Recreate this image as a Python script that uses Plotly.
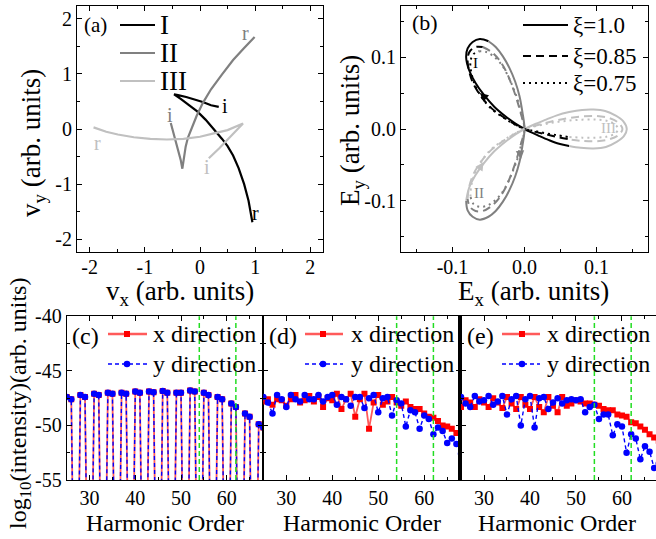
import plotly.graph_objects as go

W, H = 656, 539
FONT = "Liberation Serif, Times New Roman, Times, serif"

# ---------------- panel (a): velocity trajectories ----------------
a_I_x = [0.34, 0.20, 0.05, -0.10, -0.25, -0.40, -0.47, -0.35, -0.20, -0.05, 0.10, 0.25, 0.40, 0.50, 0.60, 0.70, 0.80, 0.88, 0.95]
a_I_y = [0.40, 0.43, 0.49, 0.54, 0.58, 0.615, 0.63, 0.545, 0.44, 0.32, 0.17, 0.0, -0.18, -0.31, -0.48, -0.71, -1.0, -1.3, -1.69]
a_II_x = [-0.53, -0.49, -0.44, -0.39, -0.35, -0.32, -0.29, -0.26, -0.22, -0.15, -0.06, 0.05, 0.20, 0.40, 0.60, 0.80, 0.99]
a_II_y = [0.11, -0.04, -0.19, -0.38, -0.56, -0.72, -0.50, -0.32, -0.16, 0.03, 0.24, 0.47, 0.72, 0.99, 1.25, 1.47, 1.67]
a_III_x = [-1.93, -1.70, -1.49, -1.20, -0.90, -0.60, -0.30, 0.0, 0.25, 0.50, 0.78, 0.65, 0.50, 0.35, 0.16]
a_III_y = [0.03, -0.05, -0.10, -0.15, -0.18, -0.19, -0.18, -0.14, -0.08, -0.02, 0.10, -0.04, -0.19, -0.35, -0.53]
a_names = ["I", "II", "III"]

# ---------------- panel (b): electric field, three xi values ----------------
# xi = 1.0 (solid)
b10_I_x = [0.062, 0.048, 0.034, 0.020, 0.008, 0.0, -0.012, -0.027, -0.042, -0.056, -0.068, -0.077, -0.081, -0.079, -0.072, -0.062, -0.050]
b10_I_y = [-0.0235, -0.0205, -0.0155, -0.0095, -0.004, 0.0, 0.007, 0.018, 0.031, 0.047, 0.064, 0.082, 0.099, 0.112, 0.121, 0.125, 0.122]
b10_II_x = [-0.050, -0.040, -0.030, -0.021, -0.013, -0.007, -0.003, 0.0, -0.003, -0.007, -0.013, -0.021, -0.030, -0.040, -0.050, -0.062, -0.072, -0.079, -0.081]
b10_II_y = [0.122, 0.114, 0.101, 0.085, 0.066, 0.046, 0.024, 0.0, -0.024, -0.046, -0.066, -0.085, -0.101, -0.114, -0.122, -0.126, -0.122, -0.113, -0.100]
b10_III_x = [-0.081, -0.077, -0.068, -0.056, -0.042, -0.027, -0.012, 0.0, 0.015, 0.030, 0.045, 0.062, 0.080, 0.096, 0.112, 0.126, 0.137, 0.142, 0.138, 0.128, 0.113, 0.096, 0.078, 0.062]
b10_III_y = [-0.100, -0.082, -0.064, -0.047, -0.031, -0.018, -0.007, 0.0, 0.007, 0.013, 0.019, 0.0235, 0.0265, 0.027, 0.025, 0.019, 0.011, 0.0, -0.010, -0.018, -0.025, -0.027, -0.026, -0.0235]
# xi = 0.85 (dashed)
b085_I_x = [0.060, 0.045, 0.030, 0.015, 0.0, -0.014, -0.030, -0.046, -0.060, -0.071, -0.077, -0.079, -0.076, -0.068, -0.058]
b085_I_y = [-0.014, -0.011, -0.0075, -0.004, 0.0, 0.007, 0.017, 0.029, 0.045, 0.063, 0.081, 0.097, 0.108, 0.114, 0.114]
b085_II_x = [-0.058, -0.047, -0.036, -0.026, -0.018, -0.011, -0.005, 0.0, -0.005, -0.011, -0.018, -0.026, -0.036, -0.047, -0.058, -0.068, -0.076, -0.079]
b085_II_y = [0.114, 0.108, 0.097, 0.081, 0.062, 0.042, 0.021, 0.0, -0.021, -0.042, -0.062, -0.081, -0.097, -0.108, -0.114, -0.114, -0.108, -0.097]
b085_III_x = [-0.079, -0.077, -0.071, -0.060, -0.046, -0.030, -0.014, 0.0, 0.020, 0.040, 0.060, 0.080, 0.100, 0.118, 0.130, 0.136, 0.131, 0.119, 0.100, 0.080, 0.060]
b085_III_y = [-0.097, -0.081, -0.063, -0.045, -0.029, -0.017, -0.007, 0.0, 0.006, 0.011, 0.015, 0.0175, 0.018, 0.015, 0.009, 0.0, -0.008, -0.014, -0.017, -0.0165, -0.014]
# xi = 0.75 (dotted)
b075_I_x = [0.060, 0.045, 0.030, 0.015, 0.0, -0.015, -0.031, -0.047, -0.060, -0.069, -0.074, -0.075, -0.071, -0.063]
b075_I_y = [-0.011, -0.0085, -0.006, -0.003, 0.0, 0.007, 0.017, 0.029, 0.045, 0.062, 0.079, 0.094, 0.104, 0.108]
b075_II_x = [-0.063, -0.053, -0.043, -0.033, -0.024, -0.016, -0.009, -0.004, 0.0, -0.004, -0.009, -0.016, -0.024, -0.033, -0.043, -0.053, -0.063, -0.071, -0.075]
b075_II_y = [0.108, 0.107, 0.101, 0.091, 0.076, 0.058, 0.039, 0.019, 0.0, -0.019, -0.039, -0.058, -0.076, -0.091, -0.101, -0.107, -0.108, -0.104, -0.094]
b075_III_x = [-0.075, -0.074, -0.069, -0.060, -0.047, -0.031, -0.015, 0.0, 0.020, 0.040, 0.060, 0.080, 0.100, 0.116, 0.126, 0.130, 0.126, 0.115, 0.100, 0.080, 0.060]
b075_III_y = [-0.094, -0.079, -0.062, -0.045, -0.029, -0.017, -0.007, 0.0, 0.005, 0.009, 0.0115, 0.013, 0.013, 0.011, 0.006, 0.0, -0.006, -0.0105, -0.012, -0.012, -0.011]
b_labels = ["\u03be=1.0", "\u03be=0.85", "\u03be=0.75"]

# ---------------- panels (c)-(e): harmonic spectra ----------------
orders = [25, 26, 27, 28, 29, 30, 31, 32, 33, 34, 35, 36, 37, 38, 39, 40, 41, 42, 43, 44, 45, 46,
          47, 48, 49, 50, 51, 52, 53, 54, 55, 56, 57, 58, 59, 60, 61, 62, 63, 64, 65, 66, 67, 68]
c_x = [-47.4, -47.6, -80, -47.2, -47.4, -80, -47.1, -47.2, -80, -47.0, -47.1, -80, -47.0, -47.1, -80,
       -46.9, -47.0, -80, -46.9, -46.95, -80, -46.85, -47.0, -80, -47.0, -47.0, -80, -46.8, -46.9, -80,
       -47.0, -47.2, -80, -47.4, -47.6, -80, -48.0, -48.3, -80, -48.9, -49.2, -80, -49.9, -50.2]
c_y = [-47.4, -47.6, -80, -47.2, -47.4, -80, -47.1, -47.2, -80, -47.0, -47.1, -80, -47.0, -47.1, -80,
       -46.9, -47.0, -80, -46.9, -46.95, -80, -46.85, -47.0, -80, -47.0, -47.0, -80, -46.8, -46.9, -80,
       -47.0, -47.2, -80, -47.4, -47.6, -80, -48.0, -48.3, -80, -48.9, -49.2, -80, -49.9, -50.2]
d_x = [-47.8, -47.6, -48.1, -47.6, -47.7, -48.2, -47.6, -47.2, -47.9, -47.7, -47.3, -47.8, -47.4, -48.3,
       -47.5, -47.7, -47.1, -48.5, -47.6, -47.1, -49.2, -47.6, -47.1, -50.3, -47.9, -47.2, -48.1, -47.8,
       -47.4, -47.9, -48.2, -47.8, -48.3, -48.5, -48.5, -48.9, -49.2, -49.3, -49.6, -50.0, -50.1, -50.3,
       -50.7, -51.0]
d_y = [-47.4, -47.9, -48.9, -47.2, -47.6, -48.3, -47.2, -47.6, -47.8, -47.2, -47.6, -47.6, -47.2, -47.8,
       -47.4, -47.2, -48.1, -47.4, -47.6, -48.2, -47.4, -47.4, -48.4, -47.5, -47.2, -48.8, -47.5, -47.4,
       -49.1, -47.7, -48.0, -50.1, -48.6, -48.8, -50.3, -49.1, -49.4, -50.8, -50.2, -50.5, -51.6, -51.2,
       -51.7, -52.6]
e_x = [-48.3, -47.7, -47.9, -48.3, -47.6, -47.9, -48.3, -47.5, -47.9, -48.4, -47.4, -48.0, -48.5, -47.4,
       -48.1, -48.5, -47.4, -48.3, -48.8, -47.4, -48.2, -48.8, -47.4, -48.2, -48.0, -47.7, -47.8, -48.0,
       -48.0, -48.1, -48.2, -48.5, -48.6, -48.6, -49.0, -49.1, -49.2, -49.7, -49.8, -50.1, -50.4, -50.8,
       -51.1, -51.4]
e_y = [-47.4, -48.0, -48.3, -47.3, -47.8, -47.7, -47.3, -48.1, -47.8, -47.3, -49.0, -47.6, -47.3, -50.0,
       -47.6, -47.3, -50.2, -47.5, -47.4, -48.5, -47.9, -47.5, -48.0, -47.7, -47.6, -47.7, -47.6, -48.8,
       -48.3, -48.1, -49.4, -49.0, -49.0, -50.9, -49.9, -50.1, -52.5, -50.8, -51.2, -53.1, -51.9, -52.4,
       -53.9, -53.5]
cutoff_orders = [54, 62]
series_names = ["x direction", "y direction"]

# tick labels
a_ticks = [-2, -1, 0, 1, 2]
a_ticktext = ["-2", "-1", "0", "1", "2"]
a_minor = [-1.5, -0.5, 0.5, 1.5]
b_ticks = [-0.1, 0.0, 0.1]
b_ticktext = ["-0.1", "0.0", "0.1"]
b_minor = [-0.15, -0.05, 0.05, 0.15]
h_ticks = [30, 40, 50, 60]
h_ticktext = ["30", "40", "50", "60"]
h_minor = [25, 35, 45, 55, 65]
s_ticks = [-55, -50, -45, -40]
s_ticktext = ["-55", "-50", "-45", "-40"]
s_minor = [-52.5, -47.5, -42.5]

BLACK, GRAY, LGRAY = "#000000", "#808080", "#c0c0c0"
RED_LINE, RED, BLUE, GREEN = "#ff5a5a", "#ff0000", "#0000ff", "#22dd22"


def px(x):
    return min(1.0, max(0.0, x / W))


def py(y):
    return min(1.0, max(0.0, 1 - y / H))


fig = go.Figure()

# panel (a)
for xs, ys, col in [(a_I_x, a_I_y, BLACK), (a_II_x, a_II_y, GRAY), (a_III_x, a_III_y, LGRAY)]:
    fig.add_trace(go.Scatter(x=xs, y=ys, mode="lines", line=dict(color=col, width=2.2),
                             xaxis="x", yaxis="y", showlegend=False, hoverinfo="skip"))

# panel (b)
b_sets = [
    ((b10_I_x, b10_I_y), (b10_II_x, b10_II_y), (b10_III_x, b10_III_y), "solid"),
    ((b085_I_x, b085_I_y), (b085_II_x, b085_II_y), (b085_III_x, b085_III_y), "8px,5px"),
    ((b075_I_x, b075_I_y), (b075_II_x, b075_II_y), (b075_III_x, b075_III_y), "2px,4px"),
]
for segI, segII, segIII, dash in b_sets:
    for (xs, ys), col in [(segI, BLACK), (segII, GRAY), (segIII, LGRAY)]:
        fig.add_trace(go.Scatter(x=xs, y=ys, mode="lines",
                                 line=dict(color=col, width=2, dash=dash, shape="spline", smoothing=1),
                                 xaxis="x2", yaxis="y2", showlegend=False, hoverinfo="skip"))

# panels (c), (d), (e)
for xv, yv, ax, ay in [(c_x, c_y, "x3", "y3"), (d_x, d_y, "x4", "y4"), (e_x, e_y, "x5", "y5")]:
    fig.add_trace(go.Scatter(x=orders, y=xv, mode="lines+markers",
                             line=dict(color=RED_LINE, width=1.8),
                             marker=dict(symbol="square", size=6, color=RED),
                             xaxis=ax, yaxis=ay, showlegend=False, hoverinfo="skip"))
    fig.add_trace(go.Scatter(x=orders, y=yv, mode="lines+markers",
                             line=dict(color=BLUE, width=1.4, dash="4px,3px"),
                             marker=dict(symbol="circle", size=6.5, color=BLUE),
                             xaxis=ax, yaxis=ay, showlegend=False, hoverinfo="skip"))

shapes = []
annotations = []

# green cutoff lines
for ax in ["x3", "x4", "x5"]:
    for h in cutoff_orders:
        shapes.append(dict(type="line", xref=ax, yref=ax.replace("x", "y") + " domain",
                           x0=h, x1=h, y0=0, y1=1,
                           line=dict(color=GREEN, width=1.5, dash="5px,3px")))


def text(x, y, s, size, color="black", xanchor="center", yanchor="middle", angle=0, xref="paper", yref="paper"):
    annotations.append(dict(x=x, y=y, xref=xref, yref=yref, text=s, showarrow=False,
                            xanchor=xanchor, yanchor=yanchor, textangle=angle,
                            font=dict(family=FONT, size=size, color=color)))


# legend (a)
for i, (name, col) in enumerate(zip(a_names, [BLACK, GRAY, LGRAY])):
    yy = [25, 53, 81][i]
    shapes.append(dict(type="line", xref="paper", yref="paper", x0=px(120), x1=px(155),
                       y0=py(yy), y1=py(yy), line=dict(color=col, width=2.2)))
    text(px(158), py(yy), name, 27, xanchor="left")

# legend (b)
for i, (lab, dash) in enumerate(zip(b_labels, ["solid", "8px,5px", "2px,4px"])):
    yy = [25, 56, 83][i]
    shapes.append(dict(type="line", xref="paper", yref="paper", x0=px(523), x1=px(568),
                       y0=py(yy), y1=py(yy), line=dict(color=BLACK, width=2, dash=dash)))
    text(px(571), py(yy), lab, 23, xanchor="left")

# legends (c)-(e)
for x0, x1, mid, tx in [(108, 147, 127, 151), (305, 343, 323, 349), (502, 540, 522, 545)]:
    shapes.append(dict(type="line", xref="paper", yref="paper", x0=px(x0), x1=px(x1),
                       y0=py(334), y1=py(334), line=dict(color=RED_LINE, width=2.5)))
    shapes.append(dict(type="rect", xref="paper", yref="paper", x0=px(mid - 3), x1=px(mid + 3),
                       y0=py(337), y1=py(331), fillcolor=RED, line=dict(width=0)))
    shapes.append(dict(type="line", xref="paper", yref="paper", x0=px(x0), x1=px(x1),
                       y0=py(364), y1=py(364), line=dict(color=BLUE, width=1.4, dash="4px,3px")))
    shapes.append(dict(type="circle", xref="paper", yref="paper", x0=px(mid - 3.3), x1=px(mid + 3.3),
                       y0=py(367.3), y1=py(360.7), fillcolor=BLUE, line=dict(width=0)))
    text(px(tx), py(334), series_names[0], 24, xanchor="left")
    text(px(tx), py(364), series_names[1], 24, xanchor="left")

# panel labels
text(px(95), py(25), "(a)", 21)
text(px(425), py(23), "(b)", 22)
text(px(85), py(336), "(c)", 24)
text(px(283), py(336), "(d)", 24)
text(px(480), py(336), "(e)", 24)

# axis titles
text(px(180), py(293), "v<sub>x</sub> (arb. units)", 27)
text(px(33), py(143), "v<sub>y</sub> (arb. units)", 27, angle=-90)
text(px(533), py(293), "E<sub>x</sub> (arb. units)", 27)
text(px(352), py(131), "E<sub>y</sub> (arb. units)", 27, angle=-90)
text(px(20), py(404), "log<sub>10</sub>(intensity)(arb. units)", 24, angle=-90)
for cx in [165, 362, 557]:
    text(px(cx), py(523), "Harmonic Order", 24)

# (a) curve labels
for s, x, y, col in [("r", 0.83, 1.74, GRAY), ("i", 0.45, 0.41, BLACK), ("i", -0.55, 0.26, GRAY),
                     ("r", -1.86, -0.25, LGRAY), ("i", 0.12, -0.68, LGRAY), ("r", 1.01, -1.52, BLACK)]:
    text(x, y, s, 20, color=col, xref="x", yref="y")

# (b) lobe labels
for s, x, y, col in [("I", -0.068, 0.092, BLACK), ("II", -0.063, -0.089, GRAY), ("III", 0.117, 0.001, LGRAY)]:
    text(x, y, s, 15, color=col, xref="x2", yref="y2")

# (b) arrows
for x, y, axp, ayp, col in [(-0.062, 0.050, 7, 6, BLACK), (-0.005, -0.042, -1, -9, GRAY),
                           (-0.057, -0.046, -5, 8, LGRAY)]:
    annotations.append(dict(x=x, y=y, xref="x2", yref="y2", ax=axp, ay=ayp, text="",
                            showarrow=True, arrowhead=2, arrowsize=1.3, arrowwidth=1.3,
                            arrowcolor=col))

tickfont = dict(family=FONT, size=20, color="black")


def axis(domain, rng, tickvals, ticktext, minor_vals, labels=True, mirror="ticks", lw=1, **kw):
    d = dict(domain=domain, range=rng, tickmode="array", tickvals=tickvals, ticktext=ticktext,
             showticklabels=labels, ticks="inside", ticklen=5, tickwidth=1, tickcolor="black",
             showline=True, linecolor="black", linewidth=lw, mirror=mirror, automargin=False,
             showgrid=False, zeroline=False, tickfont=tickfont,
             minor=dict(tickvals=minor_vals, ticks="inside", ticklen=3, tickcolor="black", showgrid=False))
    d.update(kw)
    return d


top_y = [py(252), py(6)]
bot_y = [py(480), py(316.3)]

fig.update_layout(
    width=W, height=H, autosize=False,
    margin=dict(l=0, r=0, t=0, b=0, pad=0, autoexpand=False),
    paper_bgcolor="white", plot_bgcolor="white",
    font=dict(family=FONT, color="black"),
    showlegend=False,
    xaxis=axis([px(77), px(323)], [-2.23, 2.23], a_ticks, a_ticktext, a_minor, anchor="y",
               ticklabelstandoff=-3),
    yaxis=axis(top_y, [-2.23, 2.23], a_ticks, a_ticktext, a_minor, anchor="x"),
    xaxis2=axis([px(401), px(648)], [-0.1715, 0.1715], b_ticks, b_ticktext, b_minor, anchor="y2",
                ticklabelstandoff=-3),
    yaxis2=axis(top_y, [-0.171, 0.171], b_ticks, b_ticktext, b_minor, anchor="x2"),
    xaxis3=axis([px(66.7), px(263.3)], [25, 68], h_ticks, h_ticktext, h_minor, anchor="y3"),
    yaxis3=axis(bot_y, [-55, -40], s_ticks, s_ticktext, s_minor, anchor="x3"),
    xaxis4=axis([px(263.3), px(461)], [25, 68], h_ticks, h_ticktext, h_minor, anchor="y4"),
    yaxis4=axis(bot_y, [-55, -40], s_ticks, s_ticktext, s_minor, labels=False, anchor="x4"),
    xaxis5=axis([px(461), 1.0], [25, 67.4], h_ticks, h_ticktext, h_minor, anchor="y5"),
    yaxis5=axis(bot_y, [-55, -40], s_ticks, s_ticktext, s_minor, labels=False, mirror=False, lw=2.5,
                anchor="x5"),
    shapes=shapes,
    annotations=annotations,
)

# remove the default page margin so the figure fills the window exactly; hide the modebar
fig.write_html("out.html", config={"displayModeBar": False},
               post_script="document.body.style.margin='0px';")
